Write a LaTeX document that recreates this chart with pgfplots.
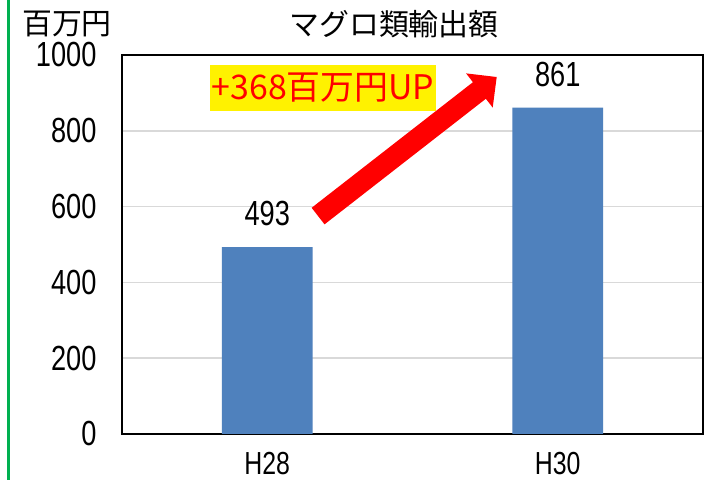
\documentclass[border=0pt]{standalone}
\usepackage{fontspec}
\setmainfont{Liberation Sans}[FakeStretch=0.78]
\newfontfamily\jp{Noto Sans CJK JP}
\usepackage{pgfplots}
\pgfplotsset{compat=1.18}
\usetikzlibrary{arrows.meta}
\definecolor{barblue}{RGB}{79,129,189}
\definecolor{grn}{RGB}{0,176,80}
\definecolor{gridgray}{RGB}{217,217,217}
\pgfplotsset{layers/mylayers/.define layer set={axis background,axis grid,main,axis ticks,axis lines,axis tick labels,axis descriptions,axis foreground}{}}
\begin{document}
\begin{tikzpicture}[x=1bp,y=1bp]
\fill[white] (0,0) rectangle (711,480);
\fill[grn] (6.5,0) rectangle (9.5,480);
\begin{axis}[
  set layers=mylayers,
  at={(122bp,46bp)}, anchor=south west,
  width=581bp, height=379bp, scale only axis,
  xmin=-0.5, xmax=1.5, ymin=0, ymax=1000,
  xtick={0,1}, xticklabels={H28,H30},
  ytick={0,200,400,600,800,1000},
  major tick length=0pt,
  ymajorgrids, grid style={gridgray, line width=1.5bp},
  axis line style={black, line width=1.5bp},
  /pgf/number format/assume math mode=true,
  /pgf/number format/1000 sep={},
  ticklabel style={font=\fontsize{35}{38}\selectfont},
  yticklabel style={xshift=-22bp},
  xticklabel style={font=\fontsize{32}{34}\selectfont, anchor=north, inner sep=0pt, yshift=-18bp},
  clip=false,
]
\addplot[ybar, bar width=0.313, fill=barblue, draw=none,
  nodes near coords,
  every node near coord/.append style={font=\fontsize{35}{38}\selectfont, anchor=south, inner sep=0pt, yshift=21bp, black}]
  coordinates {(0,493) (1,861)};
\draw[red, line width=21bp, -{Triangle[length=22bp,width=42bp]}]
  (axis cs:0.175,575) -- (axis cs:0.790,942);
\end{axis}
\node[font=\jp\fontsize{30}{32}\selectfont, inner sep=0pt] at (394,456) {マグロ類輸出額};
\node[font=\jp\fontsize{30}{32}\selectfont, inner sep=0pt] at (67,456) {百万円};
\node[font=\jp\fontsize{34}{36}\selectfont, text=red, fill=yellow, inner xsep=2bp, inner ysep=0pt, minimum height=46bp] at (323,392) {+368百万円UP};
\end{tikzpicture}
\end{document}
